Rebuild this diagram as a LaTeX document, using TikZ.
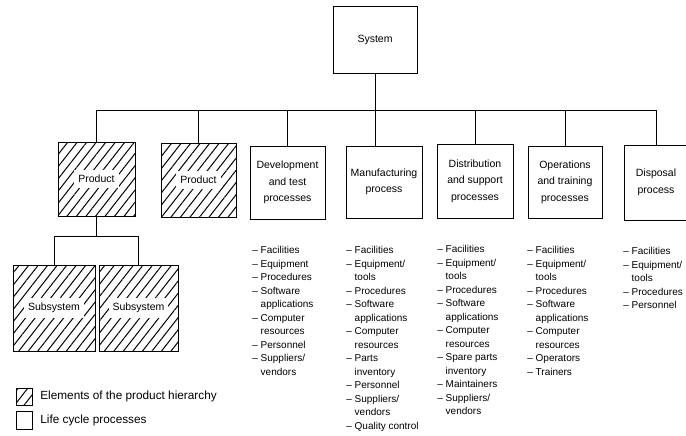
\documentclass[tikz,border=0pt]{standalone}
\usepackage{fontspec}
\setmainfont{Liberation Sans}
\usepackage{tikz}
\usetikzlibrary{patterns,patterns.meta}
\usetikzlibrary{positioning}
\newcommand{\boxfont}{\fontsize{10.5}{16.5}\selectfont}
\newcommand{\listfont}{\fontsize{10}{13.5}\selectfont}
\newcommand{\keyfont}{\fontsize{11.8}{14}\selectfont}
\newcommand{\more}{\phantom{–\ }}
\tikzstyle{element}=[draw, inner sep=0, outer sep=0, line width=0.7pt]
\tikzstyle{process}=[element, align=center, font=\boxfont, minimum width=75pt, minimum height=73pt]
\tikzstyle{hatched}=[element, pattern={Lines[angle=52, distance=7.5pt, line width=1pt]}]
\tikzstyle{hatchtext}=[fill=white, inner xsep=4pt, inner ysep=5pt, font=\boxfont]
\tikzstyle{resources}=[align=left, anchor=north west, inner sep=0, font=\listfont]
\tikzstyle{lifecycle}=[x=1pt, y=-1pt, line width=0.7pt,
                       % Legend text.
                       key/.style={inner sep=0, font=\keyfont}]

\begin{document}
\begin{tikzpicture}[lifecycle]
        \useasboundingbox (0, 0) rectangle (686, 436);
        \node[process, minimum width=84pt, minimum height=67pt]  (sys) at (375, 39.5) {System};
        \node[hatched, minimum width=77pt, minimum height=74pt, label={[hatchtext]center:Product}] (p1) at (96.5, 179) {};
        \node[hatched, minimum width=75pt, minimum height=74pt, label={[hatchtext]center:Product}] (p2) at (198.5, 180) {};
        \node[process]                                           (dev) at (287.5, 182.5) {Development\\and test\\processes};
        \node[process, minimum width=76pt, minimum height=72pt]  (man) at (384, 182) {Manufacturing\\process};
        \node[process, minimum width=76pt, minimum height=74pt]  (dis) at (475, 181) {Distribution\\and support\\processes};
        \node[process, minimum width=74pt, minimum height=72pt]  (ops) at (565, 182) {Operations\\and training\\processes};
        \node[process, minimum width=64pt, minimum height=75pt]  (xd) at (656, 182.5) {Disposal\\process};
        \node[hatched, minimum width=82pt, minimum height=86pt, label={[hatchtext]center:Subsystem}] (s1) at (54, 308) {};
        \node[hatched, minimum width=79pt, minimum height=86pt, label={[hatchtext]center:Subsystem}] (s2) at (138.5, 308) {};
        \coordinate (bus) at (0, 110);
        \coordinate (pbus) at (0, 236);
        \draw (sys.south) -- (sys.south |- man.north);
        \draw (p1.north |- bus) -- (xd.north |- bus);
        \foreach \n in {p1, p2, dev, dis, ops, xd}
            \draw (\n.north |- bus) -- (\n.north);
        \draw (p1.south) -- (p1.south |- pbus);
        \draw (s1.north |- pbus) -- (s2.north |- pbus);
        \draw (s1.north |- pbus) -- (s1.north);
        \draw (s2.north |- pbus) -- (s2.north);
        \node[resources] (devlist) at (252, 246) {– Facilities\\– Equipment\\– Procedures\\– Software\\\more applications\\– Computer\\\more resources\\– Personnel\\– Suppliers/\\\more vendors};
        \node[resources] (manlist) at (346, 246) {– Facilities\\– Equipment/\\\more tools\\– Procedures\\– Software\\\more applications\\– Computer\\\more resources\\– Parts\\\more inventory\\– Personnel\\– Suppliers/\\\more vendors\\– Quality control};
        \node[resources] (dislist) at (437, 245) {– Facilities\\– Equipment/\\\more tools\\– Procedures\\– Software\\\more applications\\– Computer\\\more resources\\– Spare parts\\\more inventory\\– Maintainers\\– Suppliers/\\\more vendors};
        \node[resources] (opslist) at (527, 246) {– Facilities\\– Equipment/\\\more tools\\– Procedures\\– Software\\\more applications\\– Computer\\\more resources\\– Operators\\– Trainers};
        \node[resources] (xdlist) at (623, 247) {– Facilities\\– Equipment/\\\more tools\\– Procedures\\– Personnel};
        \node[hatched, minimum width=16pt, minimum height=17pt] (keyh) at (24, 396.5) {};
        \node[element, minimum width=16pt, minimum height=18pt] (keyp) at (24, 420) {};
        \node[key, right=8pt of keyh] (keyhtext) {Elements of the product hierarchy};
        \node[key, right=8pt of keyp] (keyptext) {Life cycle processes};
    \end{tikzpicture}
\end{document}
